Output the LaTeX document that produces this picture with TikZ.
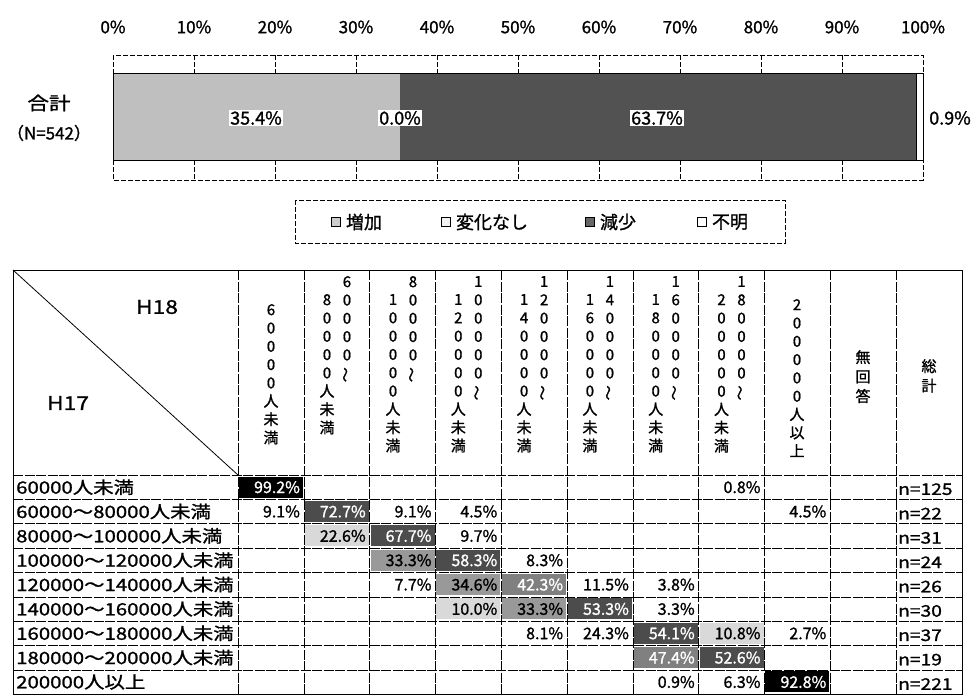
\documentclass[tikz,border=0pt]{standalone}
\usepackage{fontspec}
\setmainfont{Noto Sans CJK JP}[FakeBold=1.2]
\newfontfamily\widefont{Noto Sans CJK JP}[FakeStretch=1.2,FakeBold=1.2]
\usetikzlibrary{positioning}
\newcommand{\vwave}{\rotatebox[origin=c]{90}{〜}}
\tikzset{
  tabline/.style={line width=0.5pt,dash pattern=on 10pt off 1.5pt},
  frameline/.style={line width=0.5pt,dash pattern=on 5pt off 2pt},
  pct/.style={font=\fontsize{17}{17}\selectfont},
  barlbl/.style={fill=white,inner sep=1pt,font=\fontsize{18}{18}\selectfont},
  val/.style={text width=58pt,align=right,minimum height=21pt,inner sep=3pt,font=\fontsize{16}{16}\selectfont},
  vplain/.style={val},
  vlight/.style={val,fill=black!15},
  vmid/.style={val,fill=black!40},
  vmidw/.style={val,fill=black!50,text=white},
  vdark/.style={val,fill=black!70,text=white},
  vblack/.style={val,fill=black,text=white},
  vhead/.style={align=center,anchor=north,inner sep=0pt,font=\fontsize{15}{18.3}\selectfont},
  rowlbl/.style={anchor=west,inner sep=0pt,font=\widefont\fontsize{17}{17}\selectfont},
  key/.style={draw,minimum size=9pt,inner sep=0pt,line width=0.6pt},
  legtxt/.style={inner sep=0pt,font=\fontsize{18}{18}\selectfont}
}
\begin{document}
\begin{tikzpicture}[x=1pt,y=-1pt]
\useasboundingbox (0,0) rectangle (973,697);
% overall bar
\foreach \k [evaluate=\k as \p using int(10*\k)] in {0,...,10}
  \node[pct] (p\k) at ({113+81*\k},27) {\p\%};
\draw[frameline] (113,55) rectangle (923,180);
\foreach \k in {1,...,9}
  \draw[frameline] ({113+81*\k},55) -- ({113+81*\k},73) ({113+81*\k},160) -- ({113+81*\k},180);
\fill[black!25] (113,73) rectangle (400,160);
\fill[black!68] (400,73) rectangle (916,160);
\draw[line width=1pt] (113,73) rectangle (923,160) (916,73) -- (916,160);
\node[barlbl] (b1) at (256,118) {35.4\%};
\node[barlbl] (b2) at (400,118) {0.0\%};
\node[barlbl] (b3) at (657,118) {63.7\%};
\node[barlbl,fill=none] (b4) at (950,118) {0.9\%};
\node[font=\widefont\fontsize{18}{18}\selectfont] (tot) at (49,103) {合計};
\node[pct] (totn) at (49,133) {（N=542）};
% legend
\draw[frameline] (295,200) rectangle (785,243);
\node[key,fill=black!20] (k1) at (336,222) {};
\node[legtxt,right=5pt of k1] (t1) {増加};
\node[key,fill=black!5] (k2) at (446,222) {};
\node[legtxt,right=5pt of k2] (t2) {変化なし};
\node[key,fill=black!60] (k3) at (590,222) {};
\node[legtxt,right=5pt of k3] (t3) {減少};
\node[key] (k4) at (702,222) {};
\node[legtxt,right=5pt of k4] (t4) {不明};
% cross table
\foreach \r/\c/\v/\s in {1/1/99.2/vblack,1/8/0.8/vplain,
    2/1/9.1/vplain,2/2/72.7/vdark,2/3/9.1/vplain,2/4/4.5/vplain,2/9/4.5/vplain,
    3/2/22.6/vlight,3/3/67.7/vdark,3/4/9.7/vplain,
    4/3/33.3/vmid,4/4/58.3/vdark,4/5/8.3/vplain,
    5/3/7.7/vplain,5/4/34.6/vmid,5/5/42.3/vmidw,5/6/11.5/vplain,5/7/3.8/vplain,
    6/4/10.0/vlight,6/5/33.3/vmid,6/6/53.3/vdark,6/7/3.3/vplain,
    7/5/8.1/vplain,7/6/24.3/vplain,7/7/54.1/vdark,7/8/10.8/vlight,7/9/2.7/vplain,
    8/7/47.4/vmidw,8/8/52.6/vdark,
    9/7/0.9/vplain,9/8/6.3/vplain,9/9/92.8/vblack}
  \node[\s] (v\r-\c) at ({238+65.8*(\c-0.5)},{475+24.35*(\r-0.5)}) {\v\%};
\draw[line width=1pt] (13,270) rectangle (962,694);
\draw[line width=0.8pt] (13,270) -- (238,475);
\foreach \r in {0,...,8}
  \draw[tabline] (13,{475+24.35*\r}) -- (962,{475+24.35*\r});
\foreach \c in {0,...,10}
  \draw[tabline] ({238+65.8*\c},270) -- ({238+65.8*\c},694);
\node[font=\widefont\fontsize{19}{19}\selectfont] (h18) at (157,307) {H18};
\node[font=\widefont\fontsize{19}{19}\selectfont] (h17) at (68,403) {H17};
\node[vhead] (h1) at (271,304) {6\\0\\0\\0\\0\\人\\未\\満};
\node[vhead] (h2-r) at (347,276) {6\\0\\0\\0\\0\\\vwave};
\node[vhead] (h2-l) at (327,294) {8\\0\\0\\0\\0\\人\\未\\満};
\node[vhead] (h3-r) at (413,276) {8\\0\\0\\0\\0\\\vwave};
\node[vhead] (h3-l) at (393,294) {1\\0\\0\\0\\0\\0\\人\\未\\満};
\foreach \c/\ra/\rb/\la/\lb in {4/1/0/1/2,5/1/2/1/4,6/1/4/1/6,7/1/6/1/8,8/1/8/2/0}{
  \node[vhead] (h\c-r) at ({238+65.8*(\c-0.5)+10},276) {\ra\\\rb\\0\\0\\0\\0\\\vwave};
  \node[vhead] (h\c-l) at ({238+65.8*(\c-0.5)-10},294) {\la\\\lb\\0\\0\\0\\0\\人\\未\\満};
}
\node[vhead] (h9) at (797,299) {2\\0\\0\\0\\0\\0\\人\\以\\上};
\node[vhead,font=\fontsize{15}{19.5}\selectfont] (h10) at (863,350) {無\\回\\答};
\node[vhead,font=\fontsize{15}{19.5}\selectfont] (h11) at (929,359) {総\\計};
\foreach \r/\t in {1/60000人未満,2/60000〜80000人未満,3/80000〜100000人未満,
    4/100000〜120000人未満,5/120000〜140000人未満,6/140000〜160000人未満,
    7/160000〜180000人未満,8/180000〜200000人未満,9/200000人以上}
  \node[rowlbl] (row\r) at (16,{475+24.35*(\r-0.5)}) {\t};
\foreach \r/\n in {1/125,2/22,3/31,4/24,5/26,6/30,7/37,8/19,9/221}
  \node[rowlbl,font=\widefont\fontsize{16}{16}\selectfont] (n\r) at (898,{477+24.35*(\r-0.5)}) {n=\n};
\end{tikzpicture}
\end{document}
